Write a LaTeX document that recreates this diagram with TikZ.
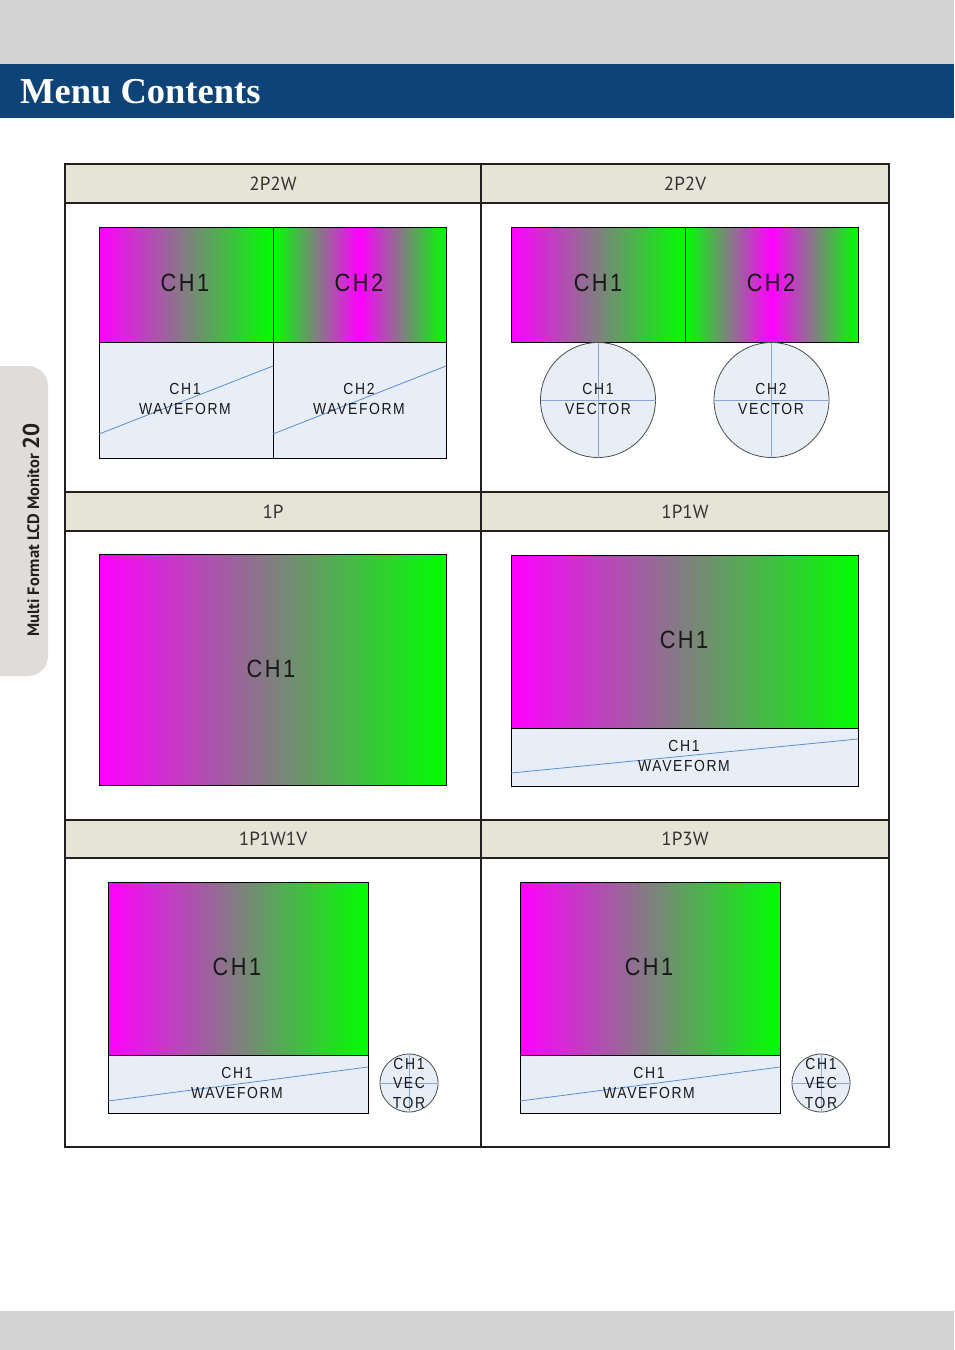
\documentclass[tikz,border=0pt]{standalone}
\usepackage{fontspec}
\setmainfont{Liberation Serif}
\newfontfamily\hdfont{PT Sans}
\newfontfamily\chfont[FakeStretch=0.87,LetterSpace=10]{Liberation Sans}
\definecolor{bandgray}{RGB}{211,211,211}
\definecolor{titleblue}{RGB}{14,67,119}
\definecolor{tabgray}{RGB}{224,220,218}
\definecolor{headbeige}{RGB}{230,227,215}
\definecolor{rulegray}{RGB}{35,31,32}
\definecolor{chmag}{RGB}{255,0,255}
\definecolor{chgrn}{RGB}{0,255,0}
\definecolor{wavefill}{RGB}{232,238,248}
\definecolor{waveline}{RGB}{95,140,215}
\definecolor{crossline}{RGB}{140,165,210}

\begin{document}
\begin{tikzpicture}[x=1pt, y=-1pt,
  chbig/.style={font=\chfont\fontsize{25}{28}\selectfont, text=black!90},
  chsmall/.style={font=\chfont\fontsize{16}{19.5}\selectfont, text=black!90, align=center, inner sep=0pt},
  headtext/.style={font=\hdfont\fontsize{19}{21}\selectfont, text=black!80},
  shadeone/.style={left color=chmag, right color=chgrn, draw=black, line width=1pt},
  shadetwo/.style={left color=chgrn, right color=chgrn, middle color=chmag, draw=black, line width=1pt},
  waveband/.style={fill=wavefill, draw=black, line width=1pt},
  waveslope/.style={draw=waveline, line width=0.8pt},
  scopecircle/.style={fill=wavefill, draw=black!70, line width=0.8pt},
  crosshair/.style={draw=crossline, line width=0.8pt}]
  \useasboundingbox (0,0) rectangle (954,1350);
  % page bands
  \fill[white] (0,0) rectangle (954,1350);
  \fill[bandgray] (0,0) rectangle (954,64);
  \fill[titleblue] (0,64) rectangle (954,118);
  \fill[bandgray] (0,1311) rectangle (954,1350);
  \node[anchor=base west, inner sep=0pt, text=white, font=\bfseries\fontsize{36.5}{40}\selectfont] (title) at (20,103) {Menu Contents};
  % side tab
  \fill[tabgray, rounded corners=20] (-30,366) rectangle (48,676);
  \node[rotate=90, anchor=base, inner sep=0pt, text=rulegray, font=\hdfont\bfseries\fontsize{16.5}{18}\selectfont] (tablabel) at (39,530) {Multi Format LCD Monitor {\fontsize{23}{25}\selectfont 20}};
  % table
  \fill[headbeige] (65,164) rectangle (889,203);
  \fill[headbeige] (65,492) rectangle (889,531);
  \fill[headbeige] (65,820) rectangle (889,858);
  \draw[rulegray, line width=1.4pt] (65,203) -- (889,203);
  \draw[rulegray, line width=1.4pt] (65,531) -- (889,531);
  \draw[rulegray, line width=1.4pt] (65,858) -- (889,858);
  \draw[rulegray, line width=2pt] (65,492) -- (889,492);
  \draw[rulegray, line width=2pt] (65,820) -- (889,820);
  \draw[rulegray, line width=2pt] (481,164) -- (481,1147);
  \draw[rulegray, line width=2pt] (65,164) rectangle (889,1147);
  \node[headtext] (h2p2w) at (273,184) {2P2W};
  \node[headtext] (h2p2v) at (685,184) {2P2V};
  \node[headtext] (h1p) at (273,512) {1P};
  \node[headtext] (h1p1w) at (685,512) {1P1W};
  \node[headtext] (h1p1w1v) at (273,839) {1P1W1V};
  \node[headtext] (h1p3w) at (685,839) {1P3W};
  % 2P2W
  \shadedraw[shadeone] (99,227) rectangle (273,342);
  \shadedraw[shadetwo] (273,227) rectangle (446,342);
  \draw[waveband] (99,342) rectangle (273,458);
  \draw[waveband] (273,342) rectangle (446,458);
  \draw[waveslope] (99,434) -- (273,366);
  \draw[waveslope] (273,434) -- (446,366);
  \node[chbig] (ppw-ch1) at (185,283) {CH1};
  \node[chbig] (ppw-ch2) at (359,283) {CH2};
  \node[chsmall] (ppw-w1) at (185,399) {CH1\\WAVEFORM};
  \node[chsmall] (ppw-w2) at (359,399) {CH2\\WAVEFORM};
  % 2P2V
  \shadedraw[shadeone] (511,227) rectangle (685,342);
  \shadedraw[shadetwo] (685,227) rectangle (858,342);
  \draw[scopecircle] (598,400) circle[radius=57.5];
  \draw[scopecircle] (771.5,400) circle[radius=57.5];
  \draw[crosshair] (540.5,400) -- (655.5,400);
  \draw[crosshair] (598,342.5) -- (598,457.5);
  \draw[crosshair] (714,400) -- (829,400);
  \draw[crosshair] (771.5,342.5) -- (771.5,457.5);
  \node[chbig] (ppv-ch1) at (598,283) {CH1};
  \node[chbig] (ppv-ch2) at (771,283) {CH2};
  \node[chsmall] (ppv-v1) at (598,399) {CH1\\VECTOR};
  \node[chsmall] (ppv-v2) at (771,399) {CH2\\VECTOR};
  % 1P
  \shadedraw[shadeone] (99,554) rectangle (446,785);
  \node[chbig] (p-ch1) at (271,669) {CH1};
  % 1P1W
  \shadedraw[shadeone] (511,555) rectangle (858,728);
  \draw[waveband] (511,728) rectangle (858,786);
  \draw[waveslope] (511,773) -- (858,739);
  \node[chbig] (pw-ch1) at (684,640) {CH1};
  \node[chsmall] (pw-w1) at (684,756) {CH1\\WAVEFORM};
  % 1P1W1V
  \shadedraw[shadeone] (108,882) rectangle (368,1055);
  \draw[waveband] (108,1055) rectangle (368,1113);
  \draw[waveslope] (108,1101) -- (368,1067);
  \draw[scopecircle] (409,1083) circle[radius=29];
  \draw[crosshair] (380,1083) -- (438,1083);
  \draw[crosshair] (409,1054) -- (409,1112);
  \node[chbig] (pwv-ch1) at (237,967) {CH1};
  \node[chsmall] (pwv-w1) at (237,1083) {CH1\\WAVEFORM};
  \node[chsmall] (pwv-v1) at (409,1083) {CH1\\VEC\\TOR};
  % 1P3W
  \shadedraw[shadeone] (520,882) rectangle (780,1055);
  \draw[waveband] (520,1055) rectangle (780,1113);
  \draw[waveslope] (520,1101) -- (780,1067);
  \draw[scopecircle] (821,1083) circle[radius=29];
  \draw[crosshair] (792,1083) -- (850,1083);
  \draw[crosshair] (821,1054) -- (821,1112);
  \node[chbig] (p3w-ch1) at (649,967) {CH1};
  \node[chsmall] (p3w-w1) at (649,1083) {CH1\\WAVEFORM};
  \node[chsmall] (p3w-v1) at (821,1083) {CH1\\VEC\\TOR};
\end{tikzpicture}
\end{document}
